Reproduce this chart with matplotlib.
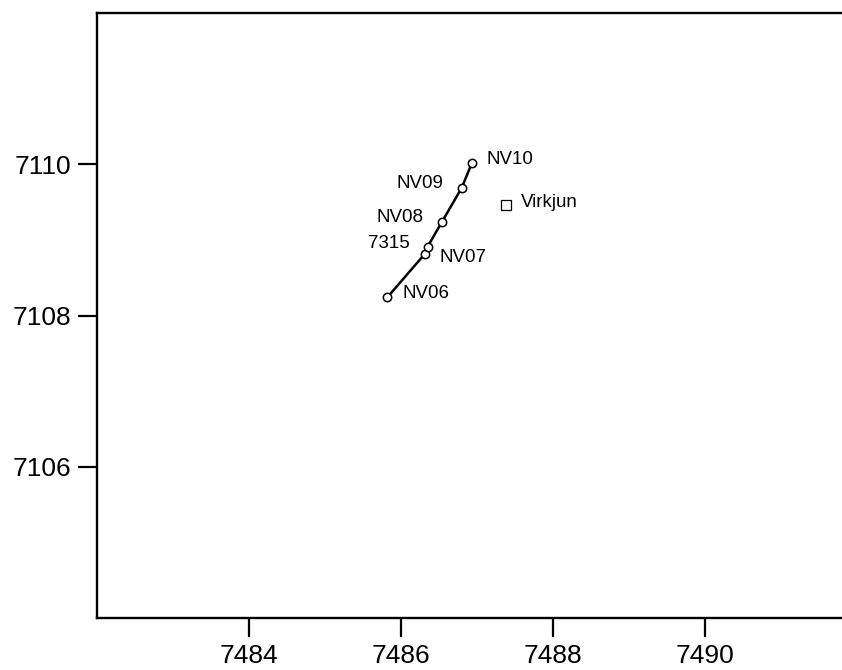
import matplotlib

matplotlib.use("Agg")

import matplotlib.pyplot as plt

# stations along the profile line (east, north in km)
names = ["NV06", "NV07", "7315", "NV08", "NV09", "NV10"]
east = [7485.82, 7486.31, 7486.35, 7486.54, 7486.80, 7486.93]
north = [7108.24, 7108.81, 7108.91, 7109.24, 7109.69, 7110.01]
# which side the label sits on, and vertical nudge in points
label_side = ["right", "right", "left", "left", "left", "right"]
label_dy = [3, -2, 2, 3, 3, 3]

site_name = "Virkjun"
site_east = 7487.38
site_north = 7109.46

plt.rcParams["font.family"] = ["Liberation Sans", "DejaVu Sans"]

fig = plt.figure(figsize=(8.42, 6.70), dpi=100)
ax = fig.add_axes([97 / 842, 52 / 670, 760 / 842, 605 / 670])

ax.plot(east, north, color="black", linewidth=1.8, zorder=2)
ax.plot(east, north, linestyle="none", marker="o", markersize=6,
        markerfacecolor="white", markeredgecolor="black", markeredgewidth=1.1, zorder=3)
ax.plot([site_east], [site_north], linestyle="none", marker="s", markersize=6.5,
        markerfacecolor="white", markeredgecolor="black", markeredgewidth=0.9, zorder=3)

for n, x, y, side, dy in zip(names, east, north, label_side, label_dy):
    if side == "right":
        ax.annotate(n, (x, y), xytext=(11, dy), textcoords="offset points",
                    ha="left", va="center", fontsize=13.5)
    else:
        ax.annotate(n, (x, y), xytext=(-13, dy), textcoords="offset points",
                    ha="right", va="center", fontsize=13.5)

ax.annotate(site_name, (site_east, site_north), xytext=(11, 2), textcoords="offset points",
            ha="left", va="center", fontsize=13.5)

ax.set_xlim(7482, 7492)
ax.set_ylim(7104, 7112)
ax.set_xticks([7484, 7486, 7488, 7490])
ax.set_yticks([7106, 7108, 7110])
ax.tick_params(direction="out", length=13.5, width=1.6, labelsize=19, pad=5)
for s in ax.spines.values():
    s.set_linewidth(1.7)

fig.savefig("out.png", dpi=100)
